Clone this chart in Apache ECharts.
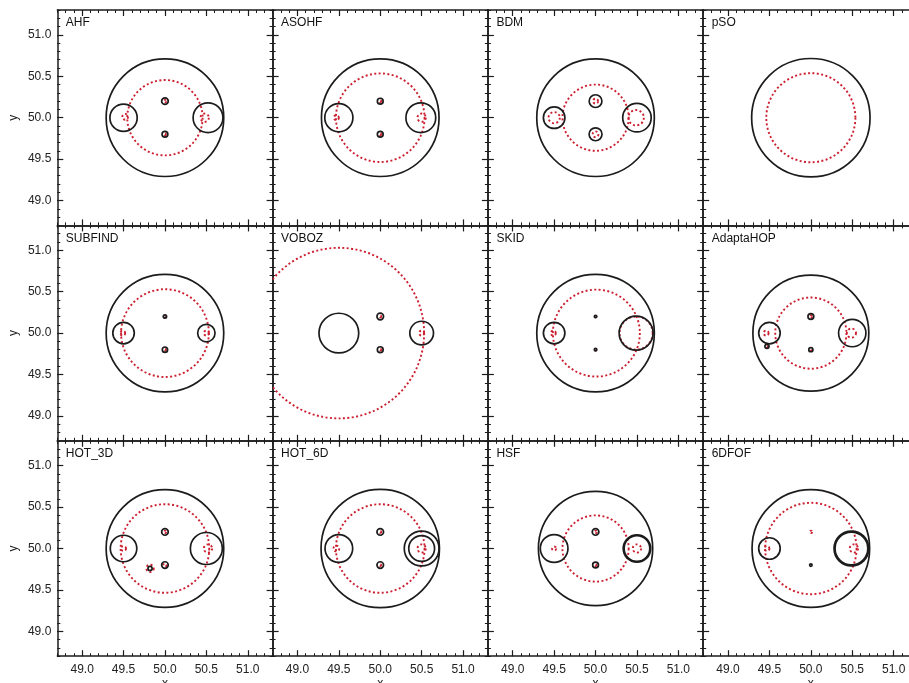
<!DOCTYPE html>
<html>
<head>
<meta charset="utf-8">
<script src="https://cdn.jsdelivr.net/npm/echarts@6/dist/echarts.min.js"></script>
<style>
html,body{margin:0;padding:0;background:#fff;overflow:hidden;width:909px;height:683px;}
#chart{width:930px;height:683px;}
</style>
</head>
<body>
<div id="chart"></div>
<script>
// ---------- DATA (x, y, radius) ----------
const panelNames = ['AHF','ASOHF','BDM','pSO','SUBFIND','VOBOZ','SKID','AdaptaHOP','HOT_3D','HOT_6D','HSF','6DFOF'];
const tickValues = [49.0, 49.5, 50.0, 50.5, 51.0];

// black solid circles / red dotted circles
const blackAHF = [[50,50,0.71],[49.5,50,0.165],[50.52,50,0.18],[50,50.2,0.04],[50,49.8,0.035]];
const redAHF   = [[50,50,0.455],[49.52,50.01,0.035],[50.48,50,0.05],[50,50.2,0.015],[50,49.8,0.012]];

const blackASOHF = [[50,50,0.71],[49.5,50,0.17],[50.49,50,0.18],[50,50.2,0.035],[50,49.8,0.035]];
const redASOHF   = [[50,50,0.535],[49.47,50,0.03],[50.5,50,0.05],[50,50.2,0.012],[50,49.8,0.012]];

const blackBDM = [[50,50,0.71],[49.5,50,0.13],[50.5,50,0.172],[50,50.2,0.077],[50,49.8,0.078]];
const redBDM   = [[50,50,0.40],[49.5,50,0.068],[50.49,50,0.093],[50,50.2,0.03],[50,49.8,0.035]];

const blackPSO = [[50,50,0.715]];
const redPSO   = [[50,50,0.538]];

const blackSUBFIND = [[50,50,0.71],[49.5,50,0.13],[50.5,50,0.105],[50,50.2,0.02],[50,49.8,0.032]];
const redSUBFIND   = [[50,50,0.53],[49.49,50,0.03],[50.5,50,0.03],[50,50.2,0.01],[50,49.8,0.012]];

const blackVOBOZ = [[49.5,50,0.24],[50.5,50,0.143],[50,50.2,0.04],[50,49.8,0.035]];
const redVOBOZ   = [[49.5,50,1.03],[50.5,50,0.03],[50,50.2,0.012],[50,49.8,0.012]];

const blackSKID = [[50,50,0.71],[49.5,50,0.13],[50.49,50,0.205],[50,50.2,0.015],[50,49.8,0.015]];
const redSKID   = [[50.01,50,0.525],[49.49,50,0.03],[50.49,50,0.2],[50,50.2,0.01],[50,49.8,0.01]];

const blackAdaptaHOP = [[50,50,0.70],[49.5,50,0.13],[50.5,50,0.165],[49.47,49.84,0.025],[50,50.2,0.035],[50,49.8,0.025]];
const redAdaptaHOP   = [[50,50,0.43],[49.46,50,0.03],[50.49,50,0.055],[49.47,49.84,0.012],[50,50.2,0.015],[50,49.8,0.01]];

const blackHOT3D = [[50,50,0.71],[49.5,50,0.16],[50.5,50,0.193],[50,50.2,0.04],[50,49.8,0.04],[49.82,49.76,0.025]];
const redHOT3D   = [[50,50,0.535],[49.5,50,0.03],[50.52,50,0.05],[50,50.2,0.015],[50,49.8,0.02],[49.82,49.76,0.045]];

const blackHOT6D = [[50,50,0.715],[49.5,50,0.167],[50.5,50,0.21],[50.5,50,0.156],[50,50.2,0.04],[50,49.8,0.04]];
const redHOT6D   = [[50,50,0.535],[49.47,50,0.035],[50.5,50,0.05],[50,50.2,0.012],[50,49.8,0.012]];

const blackHSF = [[50,50,0.69],[49.5,50,0.167],[50.5,50,0.155],[50.5,50,0.166],[50,50.2,0.04],[50,49.8,0.035]];
const redHSF   = [[50,50,0.40],[49.5,50,0.025],[50.5,50,0.05],[50,50.2,0.015],[50,49.8,0.012]];

const black6DFOF = [[50,50,0.71],[49.5,50,0.13],[50.49,50,0.198],[50.49,50,0.21],[50,49.8,0.015]];
const red6DFOF   = [[50,50,0.552],[49.47,50,0.03],[50.52,50,0.05],[50,50.2,0.015]];

const blackSets = [blackAHF,blackASOHF,blackBDM,blackPSO,blackSUBFIND,blackVOBOZ,blackSKID,blackAdaptaHOP,blackHOT3D,blackHOT6D,blackHSF,black6DFOF];
const redSets   = [redAHF,redASOHF,redBDM,redPSO,redSUBFIND,redVOBOZ,redSKID,redAdaptaHOP,redHOT3D,redHOT6D,redHSF,red6DFOF];

// ---------- LAYOUT ----------
const AX_MIN = 48.7, AX_MAX = 51.3;
const G_LEFT = 57.3, G_TOP = 10, G_W = 215.3, G_H = 215.4;
const FONT = '"Liberation Sans", Arial, Helvetica, sans-serif';
const LINE_COLOR = '#1c1c1c';
const RED = '#cc2030';

const grids = [], xAxes = [], yAxes = [], series = [], graphics = [];

function makeRender(color, width, dash) {
  return function (params, api) {
    const c = api.coord([api.value(0), api.value(1)]);
    const s = api.size([api.value(2), api.value(2)]);
    const cs = params.coordSys;
    return {
      type: 'group',
      clipPath: { type: 'rect', shape: { x: cs.x, y: cs.y, width: cs.width, height: cs.height } },
      children: [{
        type: 'circle',
        shape: { cx: c[0], cy: c[1], r: Math.max(s[0], 0.6) },
        style: { fill: 'none', stroke: color, lineWidth: width, lineDash: dash, lineCap: 'butt' }
      }]
    };
  };
}

function axisBase(gi, extra) {
  return Object.assign({
    type: 'value', gridIndex: gi, min: AX_MIN, max: AX_MAX,
    splitLine: { show: false }, silent: true
  }, extra);
}

for (let i = 0; i < 12; i++) {
  const r = Math.floor(i / 4), c = i % 4;
  const gl = G_LEFT + c * G_W, gt = G_TOP + r * G_H;
  grids.push({ left: gl, top: gt, width: G_W, height: G_H, containLabel: false, outerBoundsMode: 'none' });
  const bottomRow = r === 2, leftCol = c === 0;

  const minorTick = { show: true, inside: true, length: 3, lineStyle: { color: LINE_COLOR, width: 1 } };
  const majorTick = { show: true, inside: true, length: 6, customValues: tickValues, lineStyle: { color: LINE_COLOR, width: 1.2 } };
  const lineOn = { show: true, lineStyle: { color: LINE_COLOR, width: 1.5 } };

  const xIdx = xAxes.length, yIdx = yAxes.length;
  xAxes.push(axisBase(i, {
    position: 'bottom', interval: 0.1,
    axisLine: lineOn, axisTick: minorTick,
    axisLabel: bottomRow ? { show: true, customValues: tickValues, margin: 7, color: '#222', fontSize: 12, fontFamily: FONT, formatter: v => v.toFixed(1) } : { show: false },
    name: bottomRow ? 'x' : '', nameLocation: 'middle', nameGap: 21,
    nameTextStyle: { color: '#222', fontSize: 12, fontFamily: FONT }
  }));
  xAxes.push(axisBase(i, { position: 'bottom', axisLine: { show: false }, axisTick: majorTick, axisLabel: { show: false } }));
  xAxes.push(axisBase(i, { position: 'top', interval: 0.1, axisLine: lineOn, axisTick: minorTick, axisLabel: { show: false } }));
  xAxes.push(axisBase(i, { position: 'top', axisLine: { show: false }, axisTick: majorTick, axisLabel: { show: false } }));

  yAxes.push(axisBase(i, {
    position: 'left', interval: 0.1,
    axisLine: lineOn, axisTick: minorTick,
    axisLabel: leftCol ? { show: true, customValues: tickValues, margin: 6, color: '#222', fontSize: 12, fontFamily: FONT, formatter: v => v.toFixed(1) } : { show: false },
    name: leftCol ? 'y' : '', nameLocation: 'middle', nameGap: 38,
    nameTextStyle: { color: '#222', fontSize: 12, fontFamily: FONT }
  }));
  yAxes.push(axisBase(i, { position: 'left', axisLine: { show: false }, axisTick: majorTick, axisLabel: { show: false } }));
  yAxes.push(axisBase(i, { position: 'right', interval: 0.1, axisLine: lineOn, axisTick: minorTick, axisLabel: { show: false } }));
  yAxes.push(axisBase(i, { position: 'right', axisLine: { show: false }, axisTick: majorTick, axisLabel: { show: false } }));

  series.push({
    type: 'custom', xAxisIndex: xIdx, yAxisIndex: yIdx, clip: true, silent: true,
    renderItem: makeRender(RED, 1.9, [2, 2.4]), data: redSets[i], z: 2
  });
  series.push({
    type: 'custom', xAxisIndex: xIdx, yAxisIndex: yIdx, clip: true, silent: true,
    renderItem: makeRender(LINE_COLOR, 1.7, null), data: blackSets[i], z: 3
  });

  graphics.push({
    type: 'text', left: gl + 8.5, top: gt + 7,
    style: { text: panelNames[i], font: '12px ' + FONT, fill: '#111' }
  });
}

const chart = echarts.init(document.getElementById('chart'), null, { renderer: 'canvas' });
chart.setOption({
  animation: false,
  backgroundColor: '#fff',
  grid: grids, xAxis: xAxes, yAxis: yAxes, series: series, graphic: graphics
});
</script>
</body>
</html>
